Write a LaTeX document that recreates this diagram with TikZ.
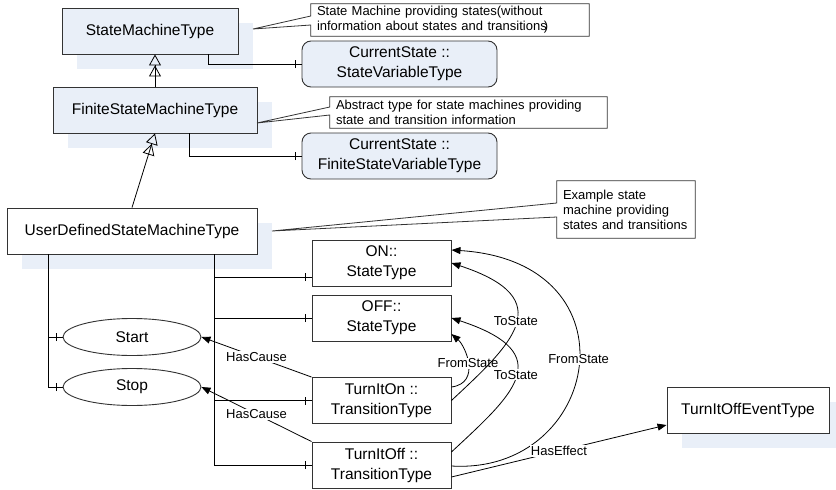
\documentclass[tikz,border=0pt]{standalone}
\usepackage{fontspec}
\setmainfont{Liberation Sans}
\usetikzlibrary{shapes.geometric, arrows.meta, shadows, calc,
                decorations.markings}
\definecolor{typeblue}{RGB}{233,239,248}
\tikzset{
  typebox/.style={rectangle, draw=black!80, line width=0.9pt,
                  inner sep=0pt, minimum height=46pt, align=center,
                  font=\fontsize{15.5}{20}\selectfont},
  blueT/.style={typebox, fill=typeblue,
                drop shadow={shadow xshift=15pt, shadow yshift=-15pt,
                             fill=typeblue, opacity=1}},
  whiteT/.style={typebox, fill=white,
                 drop shadow={shadow xshift=15pt, shadow yshift=-15pt,
                              fill=typeblue, opacity=1}},
  plainT/.style={typebox, fill=white, minimum width=139pt},
  varT/.style={typebox, fill=typeblue, rounded corners=9pt,
               minimum width=195pt},
  eventE/.style={ellipse, draw=black!80, line width=0.9pt, inner sep=0pt,
                 minimum width=138pt, minimum height=37pt,
                 font=\fontsize{15.5}{20}\selectfont},
  noteT/.style={inner ysep=0pt, inner xsep=6pt, align=left,
                font=\fontsize{13}{15}\selectfont},
  noteline/.style={draw=black!80, line width=0.8pt},
  lbl/.style={fill=white, inner sep=1pt, font=\fontsize{13}{15}\selectfont},
  isa/.style={line width=0.8pt,
              -{Triangle[open,length=11pt,width=12pt]Triangle[open,length=11pt,width=12pt]}},
  ref/.style={line width=0.8pt, -{Triangle[length=9pt,width=7pt]}},
  member/.style={line width=0.8pt, postaction={decorate,
                 decoration={markings, mark=at position -6pt with
                 {\draw[line width=0.8pt] (0,-4pt) -- (0,4pt);}}}},
}
\begin{document}
\begin{tikzpicture}[x=1pt, y=-1pt]
    \useasboundingbox[fill=white] (0,0) rectangle (836,490);
    %% type hierarchy
    \node[blueT, minimum width=176pt]  (smt)    at (150,31)  {StateMachineType};
    \node[blueT, minimum width=204pt]  (fsmt)   at (155,110) {FiniteStateMachineType};
    \node[whiteT, minimum width=250pt] (udsmt)  at (132,231) {UserDefinedStateMachineType};
    \node[varT]  (csv)    at (399.5,64)  {CurrentState ::\\StateVariableType};
    \node[varT]  (fcsv)   at (399.5,156) {CurrentState ::\\FiniteStateVariableType};
    %% states, transitions, causes
    \node[plainT] (on)      at (381.5,263) {ON::\\StateType};
    \node[plainT] (off)     at (381.5,318) {OFF::\\StateType};
    \node[plainT] (turnon)  at (381.5,400.5) {TurnItOn ::\\TransitionType};
    \node[plainT] (turnoff) at (381.5,465) {TurnItOff ::\\TransitionType};
    \node[eventE] (start)   at (132,337) {Start};
    \node[eventE] (stop)    at (132,387) {Stop};
    \node[whiteT, minimum width=162pt] (offevent) at (748,410) {TurnItOffEventType};
    %% notes
    \node[noteT, text width=266pt, minimum height=32pt] (note1) at (450,20)
      {State Machine providing states(without\\information about states and transitions\kern-3pt)};
    \node[noteT, text width=265pt, minimum height=31pt] (note2) at (468.5,112.5)
      {Abstract type for state machines providing\\state and transition information};
    \node[noteT, text width=126pt, minimum height=57pt] (note3) at (626,209.5)
      {Example state\\machine providing\\states and transitions};
    \coordinate (smtptr)  at (253,29);
    \coordinate (fsmtptr) at (257,123);
    \coordinate (udptr)   at (272,231);
    \draw[noteline] (note1.north west) -- (note1.north east) -- (note1.south east)
      -- (note1.south west) -- ([yshift=-5pt]note1.west) -- (smtptr)
      -- ([yshift=4pt]note1.west) -- cycle;
    \draw[noteline] (note2.north west) -- (note2.north east) -- (note2.south east)
      -- (note2.south west) -- ([yshift=-2.5pt]note2.west) -- (fsmtptr)
      -- ([yshift=5.5pt]note2.west) -- cycle;
    \draw[noteline] (note3.north west) -- (note3.north east) -- (note3.south east)
      -- (note3.south west) -- ([yshift=-7.5pt]note3.west) -- (udptr)
      -- ([yshift=6.5pt]note3.west) -- cycle;
    %% subtype arrows
    \draw[isa] (fsmt.north) -- (fsmt.north |- smt.south);
    \draw[isa] (udsmt.north) -- (fsmt.south);
    %% components
    \draw[member] ($(smt.south east)+(-30,0)$) |- (csv.west);
    \draw[member] ($(fsmt.south east)+(-68,0)$) |- (fcsv.west);
    \draw[member] ($(udsmt.south west)+(42,0)$) |- (start.west);
    \draw[member] ($(udsmt.south west)+(42,0)$) |- (stop.west);
    \draw[member] ($(udsmt.south east)+(-43,0)$) |- ([yshift=-14pt]on.west);
    \draw[member] ($(udsmt.south east)+(-43,0)$) |- (off.west);
    \draw[member] ($(udsmt.south east)+(-43,0)$) |- (turnon.west);
    \draw[member] ($(udsmt.south east)+(-43,0)$) |- (turnoff.west);
    %% references
    \draw[ref] (turnon.north west) -- node[lbl] {HasCause} (start.east);
    \draw[ref] (turnoff.north west) -- node[lbl] {HasCause} (stop.east);
    \draw[ref] ([yshift=13.5pt]turnon.east) .. controls +(30,-4) and +(14,12)
      .. ([yshift=-16pt]off.east) node[lbl, pos=0.5] {FromState};
    \draw[ref] (turnon.east) .. controls +(60,-56) and +(110,36)
      .. (on.east) node[lbl, pos=0.52] {ToState};
    \draw[ref] ([yshift=13pt]turnoff.east) .. controls +(60,-56) and +(110,36)
      .. (off.east) node[lbl, pos=0.52] {ToState};
    \draw[ref] ([yshift=-1pt]turnoff.east) .. controls +(149,9) and +(189,12)
      .. ([yshift=13pt]on.east) node[lbl, pos=0.52] {FromState};
    \draw[ref] ([yshift=-12pt]turnoff.east) -- node[lbl] {HasEffect}
      ([yshift=-15pt]offevent.west);
  \end{tikzpicture}
\end{document}
